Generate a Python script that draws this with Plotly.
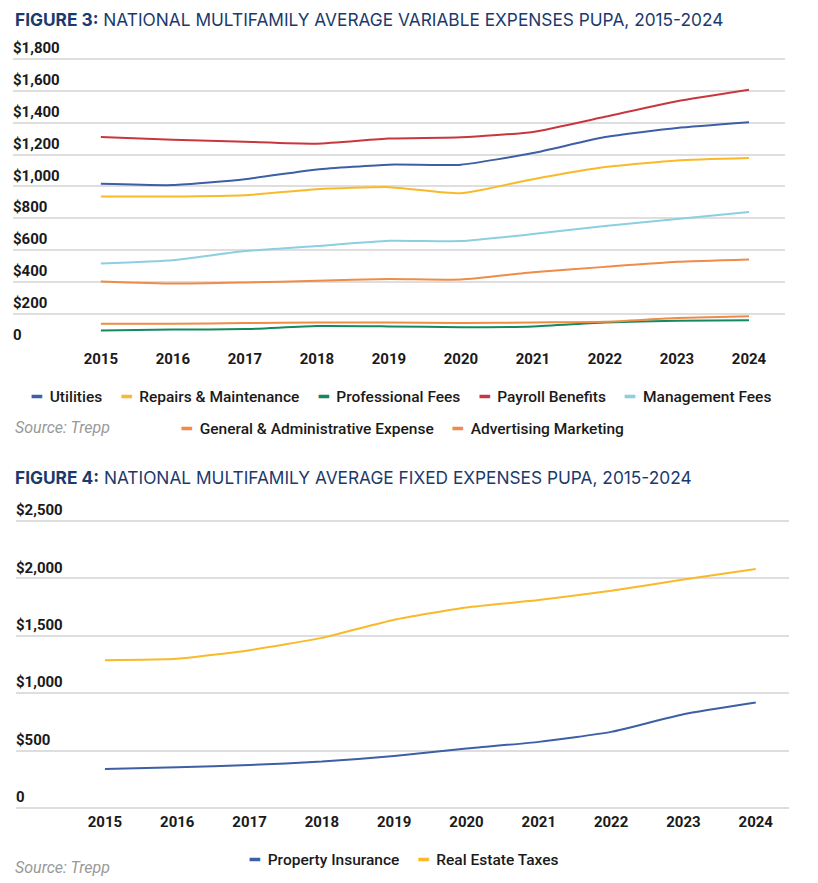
import plotly.graph_objects as go

# Figure 3 data (variable expenses per unit per annum)
years = [2015, 2016, 2017, 2018, 2019, 2020, 2021, 2022, 2023, 2024]
utilities = [1016, 1008, 1045, 1106, 1136, 1136, 1209, 1310, 1367, 1403]
repairs = [936, 936, 944, 982, 995, 957, 1045, 1121, 1163, 1178]
professional = [95, 100, 103, 122, 120, 115, 120, 145, 156, 158]
payroll = [1310, 1293, 1280, 1268, 1300, 1308, 1342, 1437, 1535, 1607]
management = [515, 536, 593, 625, 658, 656, 700, 751, 795, 839]
general_admin = [402, 389, 396, 406, 418, 414, 460, 494, 526, 541]
advertising = [137, 137, 141, 145, 145, 141, 145, 149, 172, 183]

# Figure 4 data (fixed expenses)
insurance = [340, 355, 375, 404, 453, 518, 576, 663, 817, 919]
taxes = [1288, 1299, 1375, 1482, 1640, 1747, 1811, 1892, 1991, 2081]

y1_ticks = [0, 200, 400, 600, 800, 1000, 1200, 1400, 1600, 1800]
y1_text = ["0", "$200", "$400", "$600", "$800", "$1,000", "$1,200", "$1,400", "$1,600", "$1,800"]
y2_ticks = [0, 500, 1000, 1500, 2000, 2500]
y2_text = ["0", "$500", "$1,000", "$1,500", "$2,000", "$2,500"]

BLUE = "#3c5fa6"
YELLOW = "#f9b929"
GREEN = "#128a5e"
RED = "#c9373e"
LIGHTBLUE = "#8ccfe0"
ORANGE = "#ee8c48"
NAVY = "#1b3a6b"
GRID = "#dedede"

fig3_series = [
    ("Utilities", utilities, BLUE),
    ("Repairs & Maintenance", repairs, YELLOW),
    ("Professional Fees", professional, GREEN),
    ("Payroll Benefits", payroll, RED),
    ("Management Fees", management, LIGHTBLUE),
    ("General & Administrative Expense", general_admin, ORANGE),
    ("Advertising Marketing", advertising, ORANGE),
]
fig4_series = [
    ("Property Insurance", insurance, BLUE),
    ("Real Estate Taxes", taxes, YELLOW),
]

fig = go.Figure()
for name, vals, col in fig3_series:
    fig.add_trace(go.Scatter(x=years, y=vals, name=name, mode="lines",
                             line=dict(color=col, width=2, shape="spline", smoothing=0.5),
                             xaxis="x", yaxis="y", showlegend=False))
for name, vals, col in fig4_series:
    fig.add_trace(go.Scatter(x=years, y=vals, name=name, mode="lines",
                             line=dict(color=col, width=2, shape="spline", smoothing=0.5),
                             xaxis="x2", yaxis="y2", showlegend=False))

# page body has an 8px margin, so the figure is drawn 8px smaller and shifted
OFF = 8
W = 818.0 - OFF
H = 883.0 - OFF


def px(x):
    return (x - OFF) / W


def py(y):
    return 1 - (y - OFF) / H


def ydomain(p0, p1, v0, v1, lo, hi):
    # p0, p1: screen y of values v0, v1; returns domain for range [lo, hi]
    k = (p0 - p1) / float(v1 - v0)
    bottom = p0 + (v0 - lo) * k
    top = p0 - (hi - v0) * k
    return [py(bottom), py(top)]


tickfont = dict(family="Roboto", size=15, color="#1a1a1a", weight="bold")
xcommon = dict(tickvals=years, tickfont=tickfont, showgrid=False, zeroline=False,
               showline=False, ticks="", fixedrange=True, automargin=False,
               ticklabelstandoff=2)
ycommon = dict(showgrid=True, gridcolor=GRID, gridwidth=1.5, zeroline=False, showline=False,
               ticks="", tickfont=tickfont, ticklabelposition="inside", ticklabelshift=-11,
               ticklabelstandoff=-3, automargin=False, fixedrange=True)

y1_range = [-6, 2020]
y2_range = [-9, 2760]

fig.update_layout(
    width=W, height=H,
    margin=dict(l=0, r=0, t=0, b=0, autoexpand=False),
    paper_bgcolor="white", plot_bgcolor="white",
    xaxis=dict(domain=[px(13), px(785)], range=[2013.78, 2024.5], anchor="y", **xcommon),
    yaxis=dict(domain=ydomain(345.5, 59, 0, 1800, *y1_range), range=y1_range, anchor="x",
               tickvals=y1_ticks, ticktext=y1_text, **ycommon),
    xaxis2=dict(domain=[px(16), px(789)], range=[2013.77, 2024.46], anchor="y2", **xcommon),
    yaxis2=dict(domain=ydomain(808, 521, 0, 2500, *y2_range), range=y2_range, anchor="x2",
                tickvals=y2_ticks, ticktext=y2_text, **ycommon),
)


def legend_text(series):
    gap = "&nbsp;" * 5
    parts = []
    for name, _, col in series:
        parts.append("<span style='color:%s'><b>━</b></span>&nbsp;&nbsp;%s" % (col, name.replace("&", "&amp;")))
    return gap.join(parts)


legfont = dict(family="Roboto", size=15.5, color="#1a1a1a", weight=500)
titlefont = dict(family="Inter", size=17.3, color=NAVY)
srcfont = dict(family="Roboto", size=16, color="#999999", style="italic")

annots = [
    dict(x=px(14), y=py(20), text="<b>FIGURE 3:</b> NATIONAL MULTIFAMILY AVERAGE VARIABLE EXPENSES PUPA, 2015-2024",
         font=titlefont),
    dict(x=px(14), y=py(477), text="<b>FIGURE 4:</b> NATIONAL MULTIFAMILY AVERAGE FIXED EXPENSES PUPA, 2015-2024",
         font=titlefont),
    dict(x=px(30), y=py(397), text=legend_text(fig3_series[:5]), font=legfont),
    dict(x=px(180), y=py(429), text=legend_text(fig3_series[5:]), font=legfont),
    dict(x=px(248), y=py(860), text=legend_text(fig4_series), font=legfont),
    dict(x=px(14), y=py(427), text="Source: Trepp", font=srcfont),
    dict(x=px(14), y=py(867), text="Source: Trepp", font=srcfont),
]
for a in annots:
    fig.add_annotation(xref="paper", yref="paper", xanchor="left", yanchor="middle",
                       showarrow=False, borderpad=0, **a)

fig.write_html("out.html")
